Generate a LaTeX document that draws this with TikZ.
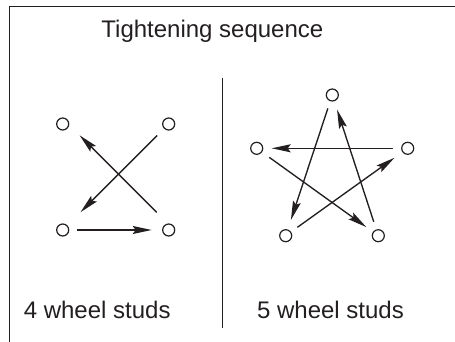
\documentclass[tikz,border=0pt]{standalone}
\usepackage{fontspec}
\setmainfont{Liberation Sans}
\usetikzlibrary{arrows.meta}
\definecolor{ink}{HTML}{231F20}
\begin{document}
\begin{tikzpicture}[x=1pt,y=-1pt,
  stud/.style={circle,draw=ink,line width=1.2pt,minimum size=12pt,inner sep=0pt},
  seq/.style={draw=ink,line width=1.35pt,-{Stealth[length=19pt,width=8pt,inset=3pt]}},
  lbl/.style={text=ink,font=\fontsize{24}{28}\selectfont,inner sep=0pt,anchor=base west}]
\useasboundingbox (0,0) rectangle (455,342);
% frame
\coordinate (fa) at (9.5,342);
\coordinate (fb) at (9.5,6.5);
\coordinate (fc) at (455,6.5);
\draw[ink,line width=1.6pt] (fa) -- (fb) -- (fc);
% divider
\coordinate (da) at (222.7,77.7);
\coordinate (db) at (222.7,328.3);
\draw[ink,line width=1.4pt] (da) -- (db);
% texts
\node[lbl] (title) at (101.2,37.3) {Tightening sequence};
\node[lbl] (four) at (23.6,318.3) {4 wheel studs};
\node[lbl] (five) at (256.9,318.3) {5 wheel studs};
% 4 studs
\node[stud] (TL) at (62.7,124) {};
\node[stud] (TR) at (168.7,124) {};
\node[stud] (BL) at (62.7,230) {};
\node[stud] (BR) at (168.7,230) {};
\draw[seq,shorten <=14.6pt,shorten >=17pt] (BL.center) -- (BR.center);
\draw[seq,shorten <=21pt,shorten >=20pt] ([shift={(2.8,-2.8)}]BR.center) -- ([shift={(2.8,-2.8)}]TL.center);
\draw[seq,shorten <=16.3pt,shorten >=25.2pt] (TR.center) -- (BL.center);
% 5 studs
\node[stud] (T) at (332.3,95) {};
\node[stud] (L) at (256.7,148.3) {};
\node[stud] (R) at (407.7,148.3) {};
\node[stud] (PL) at (285.7,235.7) {};
\node[stud] (PR) at (378.3,235.7) {};
\draw[seq,shorten <=14.1pt,shorten >=16.6pt] (T.center) -- (PL.center);
\draw[seq,shorten <=14.4pt,shorten >=16.2pt] (PL.center) -- (R.center);
\draw[seq,shorten <=15pt,shorten >=15pt] (R.center) -- (L.center);
\draw[seq,shorten <=15.5pt,shorten >=14.7pt] (L.center) -- (PR.center);
\draw[seq,shorten <=14.6pt,shorten >=15.3pt] (PR.center) -- (T.center);
\end{tikzpicture}
\end{document}
